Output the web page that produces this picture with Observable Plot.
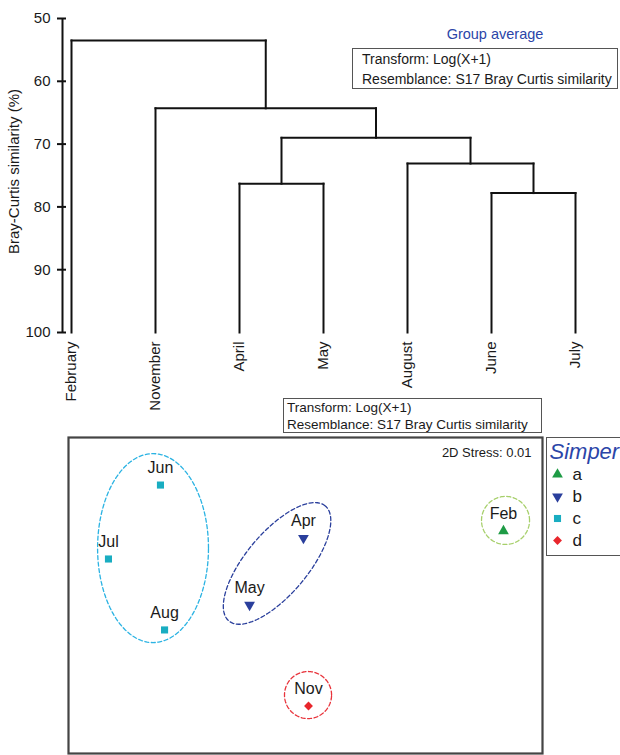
<!DOCTYPE html>
<html><head><meta charset="utf-8">
<script src="https://cdn.jsdelivr.net/npm/d3@7"></script>
<script src="https://cdn.jsdelivr.net/npm/@observablehq/plot@0.6"></script>
<style>
body{margin:0;background:#fff;}
#root{position:relative;width:620px;height:755px;overflow:hidden;font-family:"Liberation Sans",Arial,sans-serif;color:#1a1a1a;}
.abs{position:absolute;}
.box{position:absolute;border:1px solid #555;background:#fff;box-sizing:border-box;white-space:nowrap;color:#1a1a1a;}
svg{overflow:visible;}
</style></head><body><div id="root"></div>
<script>
// ---- Dendrogram data (group average, Bray-Curtis similarity %) ----
const leaves = ["February","November","April","May","August","June","July"];
// hclust-style merges: negative = leaf (1-based), positive = earlier merge step
const mergeLeft   = [-6, -3, -5, 2, -2, -1];
const mergeRight  = [-7, -4,  1, 3,  4,  5];
const mergeHeight = [77.8, 76.3, 73.1, 69.0, 64.3, 53.5];
const simTicks = [50, 60, 70, 80, 90, 100];
const yLabel = "Bray-Curtis similarity (%)";

// ---- nMDS data ----
const months    = ["Jun","Jul","Aug","Apr","May","Feb","Nov"];
const mds1      = [-0.918, -1.247, -0.892, -0.013, -0.354, 1.253, 0.019];
const mds2      = [ 0.699,  0.231, -0.218,  0.364, -0.060, 0.408, -0.699];
const monthGrp  = ["c","c","c","b","b","a","d"];
const groups      = ["a","b","c","d"];
const groupColors = ["#1e9b45","#2a3f9c","#19adc1","#e8262c"];
const hullColors  = ["#a6cf6a","#2a3f9c","#2bb3e3","#e8333b"];
// group outlines: centre, semi-axes, rotation (deg)
const hullCx    = [1.266, -0.180, -0.965, 0.016];
const hullCy    = [0.475,  0.203,  0.300, -0.630];
const hullA     = [0.152,  0.475,  0.351, 0.149];
const hullB     = [0.152,  0.196,  0.598, 0.149];
const hullAngle = [0, 50, 0, 0];
const stressText = "2D Stress: 0.01";

const root = document.getElementById("root");
const FONT = "'Liberation Sans', Arial, sans-serif";

// ---- build dendrogram segments ----
const mergeX = [];
const nodeX = k => k < 0 ? (-k - 1) : mergeX[k - 1];
const nodeH = k => k < 0 ? 100 : mergeHeight[k - 1];
const segs = [];
mergeHeight.forEach((h, i) => {
  const l = mergeLeft[i], r = mergeRight[i];
  const xl = nodeX(l), xr = nodeX(r);
  segs.push({x1: xl, y1: nodeH(l), x2: xl, y2: h});
  segs.push({x1: xr, y1: nodeH(r), x2: xr, y2: h});
  segs.push({x1: xl, y1: h, x2: xr, y2: h});
  mergeX.push((xl + xr) / 2);
});

const dendro = Plot.plot({
  width: 620, height: 390,
  marginLeft: 62, marginRight: 45, marginTop: 18, marginBottom: 58,
  style: {fontFamily: FONT, fontSize: "15px", color: "#1a1a1a", background: "transparent"},
  x: {domain: [0, leaves.length - 1], insetLeft: 9, axis: null},
  y: {domain: [50, 100], reverse: true, axis: null},
  marks: [
    Plot.ruleX([0], {y1: 50, y2: 100, dx: -9, strokeWidth: 2, stroke: "#111"}),
    Plot.axisY({ticks: simTicks, tickSize: 9, tickPadding: 7, dx: 4, strokeWidth: 2, fontSize: 15, label: null, stroke: "#111", fill: "#1a1a1a"}),
    Plot.link(segs, {x1: "x1", y1: "y1", x2: "x2", y2: "y2", stroke: "#111", strokeWidth: 2, strokeLinecap: "square"}),
    Plot.text(leaves, {x: (d, i) => i, y: () => 100, text: d => d, rotate: -90, textAnchor: "end", dy: 9, fontSize: 15, fill: "#1a1a1a"}),
    Plot.text([yLabel], {frameAnchor: "left", rotate: -90, textAnchor: "middle", lineAnchor: "middle", dx: -48, dy: -4, fontSize: 15, fill: "#1a1a1a"})
  ]
});
dendro.style.position = "absolute"; dendro.style.left = "0px"; dendro.style.top = "0px";
root.appendChild(dendro);

// ---- nMDS plot ----
const points = months.map((m, i) => ({m, x: mds1[i], y: mds2[i], g: monthGrp[i]}));
const triangleDown = {
  draw(context, size) {
    const y = Math.sqrt(size / (Math.sqrt(3) * 3));
    context.moveTo(0, 2 * y);
    context.lineTo(-Math.sqrt(3) * y, -y);
    context.lineTo(Math.sqrt(3) * y, -y);
    context.closePath();
  }
};
const groupSymbols = ["triangle", triangleDown, "square", "diamond2"];

const hullMarks = groups.map((g, i) => {
  const th = hullAngle[i] * Math.PI / 180;
  const pts = d3.range(0, 361, 3).map(t => {
    const a = t * Math.PI / 180;
    const ex = hullA[i] * Math.cos(a), ey = hullB[i] * Math.sin(a);
    return {x: hullCx[i] + ex * Math.cos(th) - ey * Math.sin(th),
            y: hullCy[i] + ex * Math.sin(th) + ey * Math.cos(th)};
  });
  return Plot.line(pts, {x: "x", y: "y", stroke: hullColors[i], strokeWidth: 1.3, strokeDasharray: "4,2.5", curve: "linear-closed"});
});
const dotMarks = groups.map((g, i) =>
  Plot.dot(points.filter(p => p.g === g), {x: "x", y: "y", symbol: groupSymbols[i], fill: groupColors[i], r: 4})
);

const mds = Plot.plot({
  width: 490, height: 330,
  marginLeft: 8, marginRight: 8, marginTop: 7, marginBottom: 7,
  style: {fontFamily: FONT, fontSize: "16px", color: "#1a1a1a", background: "transparent"},
  x: {domain: [-1.5, 1.5], axis: null},
  y: {domain: [-1, 1], axis: null},
  marks: [
    Plot.frame({stroke: "#444", strokeWidth: 2.2}),
    ...hullMarks,
    ...dotMarks,
    Plot.text(points, {x: "x", y: "y", text: "m", dy: -17, fontSize: 16, fill: "#1a1a1a"}),
    Plot.text([stressText], {frameAnchor: "top-right", dx: -11, dy: 15, lineAnchor: "middle", textAnchor: "end", fontSize: 13, fill: "#1a1a1a"})
  ]
});
mds.style.position = "absolute"; mds.style.left = "60px"; mds.style.top = "430px";
root.appendChild(mds);

// ---- Simper legend ----
const legend = Plot.plot({
  width: 76, height: 120,
  marginLeft: 1, marginRight: 1, marginTop: 1, marginBottom: 1,
  style: {fontFamily: FONT, fontSize: "17px", color: "#1a1a1a", background: "#fff"},
  x: {axis: null},
  y: {type: "point", domain: groups, range: [38, 104], padding: 0, axis: null},
  marks: [
    Plot.frame({stroke: "#555"}),
    Plot.text(["Simper"], {frameAnchor: "top-left", dx: 3, dy: 14, lineAnchor: "middle", textAnchor: "start", fontSize: 22, fontStyle: "italic", fill: "#2b45a8"}),
    ...groups.map((g, i) => Plot.dot([g], {y: d => d, frameAnchor: "left", dx: 11, symbol: groupSymbols[i], fill: groupColors[i], r: 4})),
    Plot.text(groups, {y: d => d, text: d => d, frameAnchor: "left", dx: 26, textAnchor: "start", fontSize: 17, fill: "#1a1a1a"})
  ]
});
legend.style.position = "absolute"; legend.style.left = "545px"; legend.style.top = "436px";
root.appendChild(legend);

// ---- annotation boxes ----
function addDiv(cls, css, html) {
  const d = document.createElement("div");
  d.className = cls; d.style.cssText = css; d.innerHTML = html;
  root.appendChild(d);
}
addDiv("abs", "left:430px;top:25px;width:130px;text-align:center;font-size:14.5px;line-height:18px;color:#2b45a8;", "Group average");
addDiv("box", "left:352px;top:48px;width:266px;height:41px;padding:0 0 0 9px;font-size:14px;line-height:20px;",
  "Transform: Log(X+1)<br>Resemblance: S17 Bray Curtis similarity");
addDiv("box", "left:283px;top:398px;width:259px;height:35px;padding:0 0 0 3px;font-size:13.5px;line-height:17px;",
  "Transform: Log(X+1)<br>Resemblance: S17 Bray Curtis similarity");
</script></body></html>
